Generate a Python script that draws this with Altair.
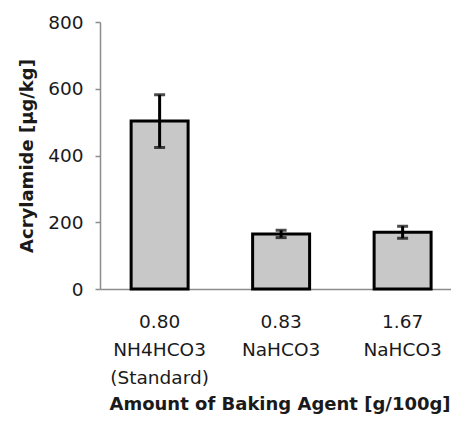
import altair as alt
import pandas as pd

categories = ["0.80|NH4HCO3|(Standard)", "0.83|NaHCO3", "1.67|NaHCO3"]
values = [503, 165, 170]
errors = [79, 11, 18]

df = pd.DataFrame({"cat": categories, "value": values, "err": errors})

FONT = "DejaVu Sans"

x_enc = alt.X(
    "cat:N",
    sort=None,
    scale=alt.Scale(paddingInner=0.531, paddingOuter=0.21, align=0.61),
    axis=alt.Axis(
        title="Amount of Baking Agent [g/100g]",
        labelExpr="split(datum.label, '|')",
        labelAngle=0,
        labelFont=FONT,
        labelFontSize=18.5,
        labelColor="#1a1a1a",
        labelBaseline="top",
        labelLineHeight=28,
        labelPadding=23,
        ticks=False,
        domainColor="#8c8c8c",
        domainWidth=1.5,
        titleFont=FONT,
        titleFontWeight="bold",
        titleFontSize=18,
        titleColor="#1a1a1a",
        titleAnchor="start",
        titleAlign="left",
        titleBaseline="alphabetic",
        titleX=9,
        titleY=120,
    ),
)

y_scale = alt.Scale(domain=[0, 800])
y_axis = alt.Axis(
    title="Acrylamide [µg/kg]",
    values=[0, 200, 400, 600, 800],
    grid=False,
    labelFont=FONT,
    labelFontSize=18.5,
    labelColor="#1a1a1a",
    labelPadding=12,
    tickSize=5,
    tickColor="#8c8c8c",
    tickWidth=1.5,
    domainColor="#8c8c8c",
    domainWidth=1.5,
    titleFont=FONT,
    titleFontWeight="bold",
    titleFontSize=18,
    titleColor="#1a1a1a",
    titleBaseline="alphabetic",
    titleAngle=270,
    titleAlign="center",
    titleX=-68,
    titleY=133.5,
)

base = alt.Chart(df).transform_calculate(
    hi="datum.value + datum.err", lo="datum.value - datum.err"
)

bars = base.mark_bar(fill="#c8c8c8", stroke="#000000", strokeWidth=3).encode(
    x=x_enc,
    y=alt.Y("value:Q", scale=y_scale, axis=y_axis),
)

rule = base.mark_rule(color="#000000", strokeWidth=3).encode(
    x=alt.X("cat:N", sort=None),
    y=alt.Y("lo:Q"),
    y2="hi:Q",
)

cap_hi = base.mark_tick(color="#000000", thickness=3, size=11).encode(
    x=alt.X("cat:N", sort=None),
    y=alt.Y("hi:Q"),
)
cap_lo = base.mark_tick(color="#000000", thickness=3, size=11).encode(
    x=alt.X("cat:N", sort=None),
    y=alt.Y("lo:Q"),
)

chart = (
    alt.layer(bars, rule, cap_hi, cap_lo)
    .properties(
        width=351,
        height=267,
        autosize=alt.AutoSizeParams(type="none"),
        padding={"left": 100, "top": 22, "right": 0, "bottom": 132},
        background="white",
    )
    .configure_view(stroke=None)
)

chart.save("out.html", embed_options={"renderer": "svg", "actions": False})
